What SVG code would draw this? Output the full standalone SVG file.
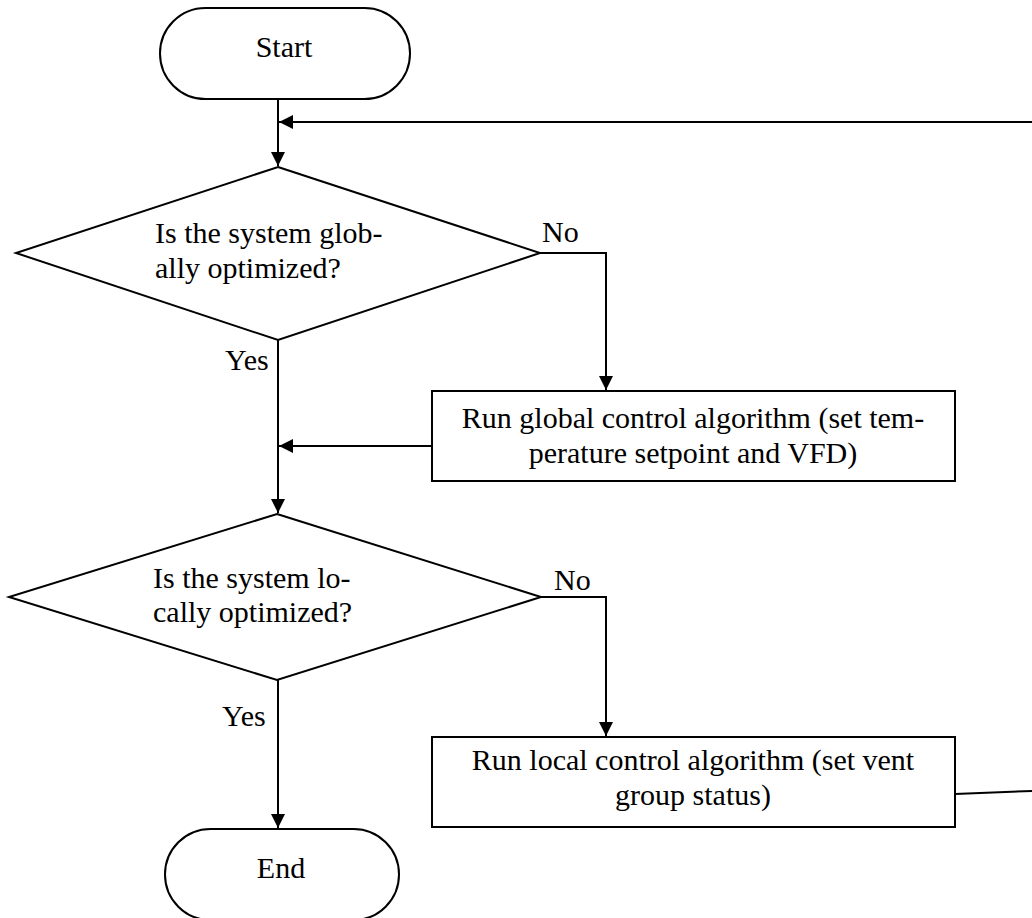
<svg xmlns="http://www.w3.org/2000/svg" width="1032" height="918" viewBox="0 0 1032 918">
<style>
.s{fill:#fff;stroke:#000;stroke-width:2}
.c{fill:none;stroke:#000;stroke-width:2}
text{font-family:"Liberation Serif","Times New Roman",serif;font-size:30px;fill:#000}
.m{text-anchor:middle}
</style>
<defs>
<marker id="a" viewBox="0 0 14 14" refX="14" refY="7" markerWidth="14" markerHeight="14" markerUnits="userSpaceOnUse" orient="auto"><path d="M0,0L14,7L0,14Z" fill="#000"/></marker>
</defs>
<g id="connectors">
<line class="c" x1="278" y1="99" x2="278" y2="166" marker-end="url(#a)"/>
<line class="c" x1="1032" y1="122" x2="279" y2="122" marker-end="url(#a)"/>
<polyline class="c" points="540,253 606,253 606,390" marker-end="url(#a)"/>
<line class="c" x1="278" y1="340" x2="278" y2="513" marker-end="url(#a)"/>
<line class="c" x1="432" y1="446" x2="279" y2="446" marker-end="url(#a)"/>
<polyline class="c" points="541,597 606,597 606,736" marker-end="url(#a)"/>
<line class="c" x1="278" y1="680" x2="278" y2="828" marker-end="url(#a)"/>
<line class="c" x1="955" y1="794" x2="1032" y2="791"/>
<text x="542" y="242">No</text>
<text x="225" y="370">Yes</text>
<text x="554" y="590">No</text>
<text x="222" y="726">Yes</text>
</g>
<g id="start">
<rect class="s" x="160" y="8" width="250" height="91" rx="45.5"/>
<text class="m" x="284" y="57">Start</text>
</g>
<g id="decision1">
<polygon class="s" points="278,167 540,253 278,340 16,253"/>
<text x="155" y="243">Is the system glob-</text>
<text x="155" y="278">ally optimized?</text>
</g>
<g id="global">
<rect class="s" x="432" y="391" width="523" height="90"/>
<text class="m" x="693" y="428">Run global control algorithm (set tem-</text>
<text class="m" x="693" y="463">perature setpoint and VFD)</text>
</g>
<g id="decision2">
<polygon class="s" points="277,514 541,597 277,680 9,597"/>
<text x="153" y="588">Is the system lo-</text>
<text x="153" y="622">cally optimized?</text>
</g>
<g id="local">
<rect class="s" x="432" y="737" width="523" height="90"/>
<text class="m" x="693" y="770">Run local control algorithm (set vent</text>
<text class="m" x="693" y="805">group status)</text>
</g>
<g id="end">
<rect class="s" x="165" y="829" width="234" height="91" rx="45.5"/>
<text class="m" x="281" y="878">End</text>
</g>
</svg>
